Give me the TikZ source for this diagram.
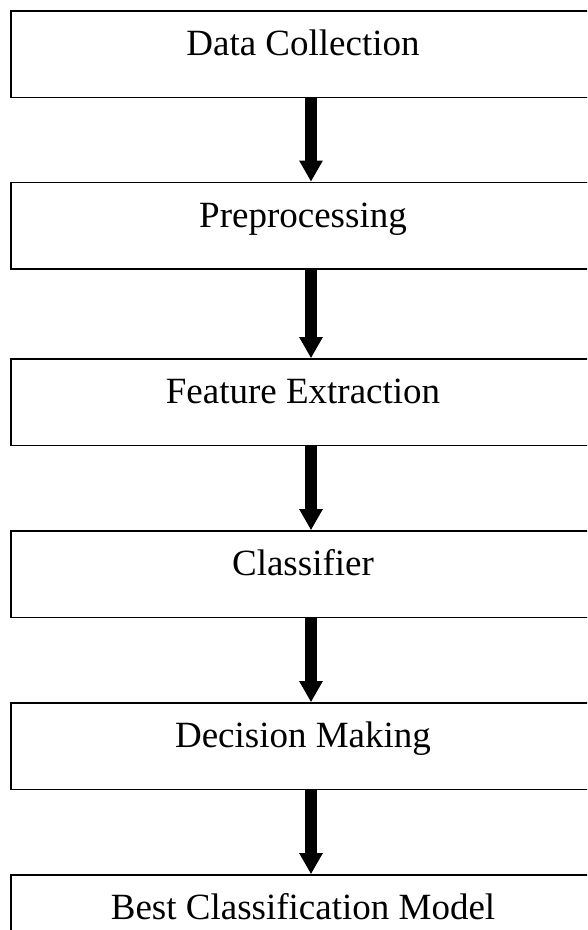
\documentclass[tikz,border=0pt]{standalone}
\usepackage{fontspec}
\setmainfont{Liberation Serif}
\usetikzlibrary{arrows.meta}
\begin{document}
\begin{tikzpicture}[x=1pt,y=1pt,
  stagebox/.style={draw=black, line width=1.6pt, inner sep=0pt,
    minimum width=584pt, text height=44.7pt, text depth=41.8pt,
    font=\fontsize{37}{44}\selectfont},
  bigarrow/.style={line width=12pt, draw=black,
    -{Triangle[width=22pt,length=21pt]}}]
  \useasboundingbox (0,0) rectangle (587,-930);
  \clip (0,0) rectangle (587,-930);
  % stages of the pipeline, top to bottom
  \node[stagebox] (b1) at (303,-54.25)  {Data Collection};
  \node[stagebox] (b2) at (303,-225.75) {Preprocessing};
  \node[stagebox] (b3) at (303,-402.25) {Feature Extraction};
  \node[stagebox] (b4) at (303,-574.25) {Classifier};
  \node[stagebox] (b5) at (303,-746.25) {Decision Making};
  \node[stagebox] (b6) at (303,-918.25) {Best Classification Model};
  % connecting arrows
  \foreach \a/\b in {b1/b2,b2/b3,b3/b4,b4/b5,b5/b6}
    \draw[bigarrow] ([xshift=8pt]\a.south) -- ([xshift=8pt]\b.north);
\end{tikzpicture}
\end{document}
